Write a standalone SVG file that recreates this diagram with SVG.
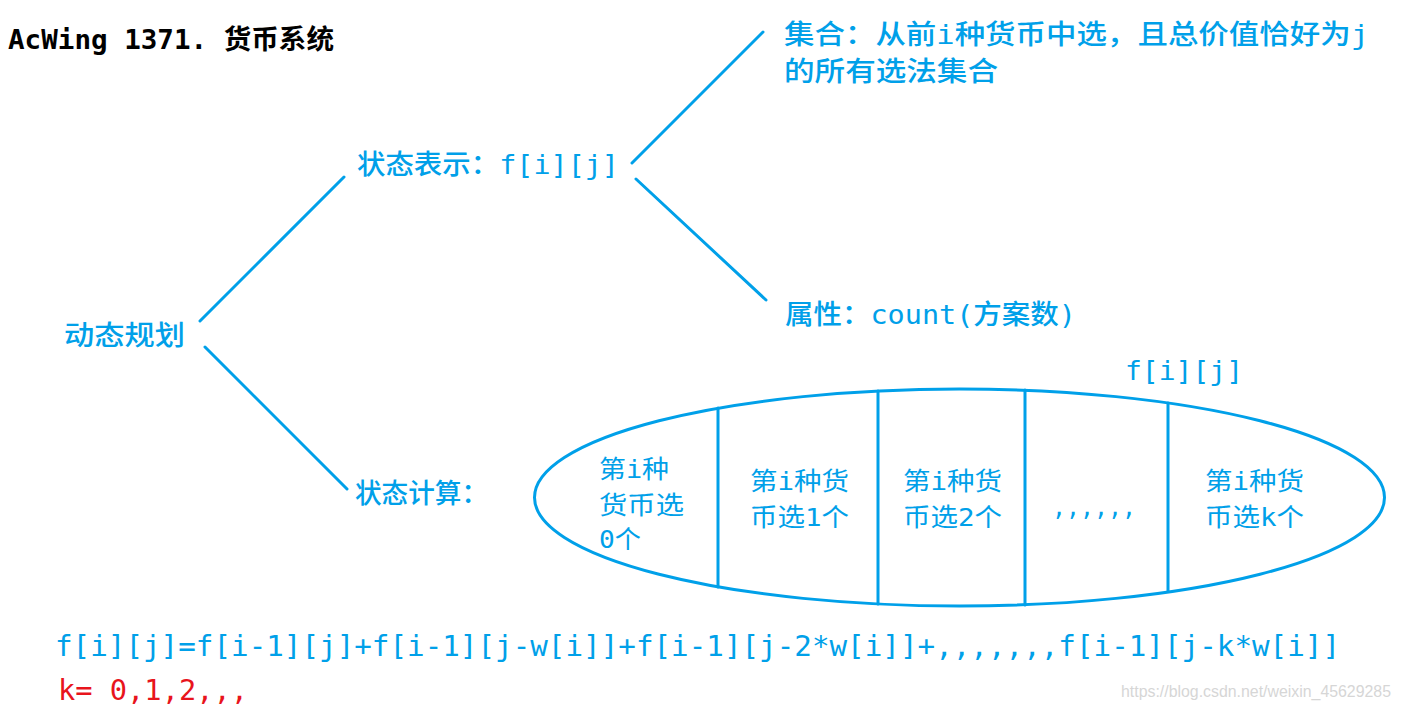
<svg xmlns="http://www.w3.org/2000/svg" width="1401" height="713" viewBox="0 0 1401 713">
<style>
.t{font-family:"DejaVu Sans Mono","Noto Sans CJK SC",monospace;fill:#00a0e9;font-size:27px;font-weight:500}
.c{font-family:"DejaVu Sans Mono","Noto Sans CJK SC",monospace;fill:#00a0e9;font-size:25px}
.ln{stroke:#00a0e9;stroke-width:3;fill:none;stroke-linecap:round}
</style>
<rect width="1401" height="713" fill="#ffffff"/>
<g id="title"><text x="8" y="49" textLength="326" lengthAdjust="spacingAndGlyphs" style="font-family:'DejaVu Sans Mono','Noto Sans CJK SC',monospace;font-size:27px;font-weight:bold;fill:#000">AcWing 1371. 货币系统</text></g>
<g id="connectors">
<line class="ln" x1="200" y1="321" x2="344" y2="177"/>
<line class="ln" x1="205" y1="347" x2="347" y2="489"/>
<line class="ln" x1="632" y1="163" x2="763" y2="32"/>
<line class="ln" x1="636" y1="179" x2="766" y2="300"/>
</g>
<g id="dp"><text class="t" x="64" y="345" textLength="121" lengthAdjust="spacingAndGlyphs">动态规划</text></g>
<g id="state"><text class="t" x="357" y="174" textLength="262" lengthAdjust="spacingAndGlyphs">状态表示：f[i][j]</text></g>
<g id="set">
<text class="t" x="784" y="44" textLength="585" lengthAdjust="spacingAndGlyphs">集合：从前i种货币中选，且总价值恰好为j</text>
<text class="t" x="784" y="81" textLength="214" lengthAdjust="spacingAndGlyphs">的所有选法集合</text>
</g>
<g id="attr"><text class="t" x="785" y="324" textLength="291" lengthAdjust="spacingAndGlyphs">属性：count(方案数)</text></g>
<g id="calc"><text class="t" x="355" y="503" textLength="133" lengthAdjust="spacingAndGlyphs">状态计算：</text></g>
<g id="fij"><text class="t" x="1125" y="380" textLength="118" lengthAdjust="spacingAndGlyphs">f[i][j]</text></g>
<g id="partition">
<ellipse class="ln" cx="959.5" cy="497.5" rx="425" ry="108.5"/>
<line class="ln" x1="718" y1="408" x2="718" y2="587"/>
<line class="ln" x1="878" y1="391" x2="878" y2="604"/>
<line class="ln" x1="1025" y1="390" x2="1025" y2="605"/>
<line class="ln" x1="1168" y1="403" x2="1168" y2="591"/>
<text class="c" x="599" y="478" textLength="70" lengthAdjust="spacingAndGlyphs">第i种</text>
<text class="c" x="599" y="514" textLength="85" lengthAdjust="spacingAndGlyphs">货币选</text>
<text class="c" x="599" y="548" textLength="42" lengthAdjust="spacingAndGlyphs">0个</text>
<text class="c" x="750" y="490" textLength="99" lengthAdjust="spacingAndGlyphs">第i种货</text>
<text class="c" x="750" y="526" textLength="99" lengthAdjust="spacingAndGlyphs">币选1个</text>
<text class="c" x="903" y="490" textLength="99" lengthAdjust="spacingAndGlyphs">第i种货</text>
<text class="c" x="903" y="526" textLength="99" lengthAdjust="spacingAndGlyphs">币选2个</text>
<text class="c" x="1052" y="516" textLength="84" lengthAdjust="spacingAndGlyphs">,,,,,,</text>
<text class="c" x="1205" y="490" textLength="99" lengthAdjust="spacingAndGlyphs">第i种货</text>
<text class="c" x="1205" y="526" textLength="99" lengthAdjust="spacingAndGlyphs">币选k个</text>
</g>
<g id="formula"><text x="55" y="656" textLength="1285" lengthAdjust="spacingAndGlyphs" style="font-family:'DejaVu Sans Mono',monospace;font-size:29px;fill:#00a0e9">f[i][j]=f[i-1][j]+f[i-1][j-w[i]]+f[i-1][j-2*w[i]]+,,,,,,,f[i-1][j-k*w[i]]</text></g>
<g id="krange"><text x="58" y="700" textLength="190" lengthAdjust="spacingAndGlyphs" style="font-family:'DejaVu Sans Mono',monospace;font-size:28px;fill:#e8141c">k= 0,1,2,,,</text></g>
<g id="watermark"><text x="1121" y="697" textLength="270" lengthAdjust="spacingAndGlyphs" style="font-family:'Liberation Sans',sans-serif;font-size:16px;fill:#d6d6d6">https://blog.csdn.net/weixin_45629285</text></g>
</svg>
